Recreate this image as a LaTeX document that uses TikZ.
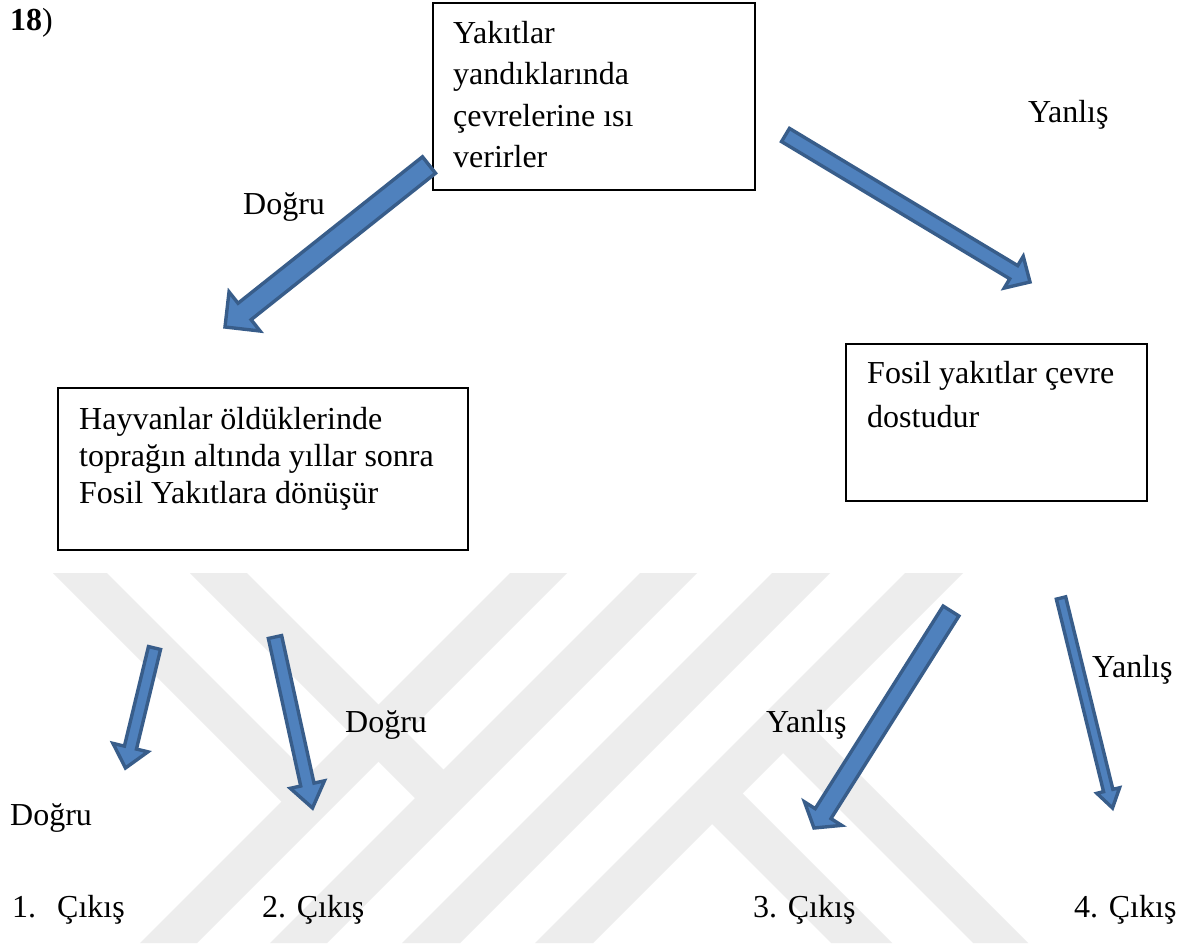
\documentclass[tikz,border=0pt]{standalone}
\usepackage{fontspec}
\setmainfont{Liberation Serif}
\usetikzlibrary{calc}
\definecolor{arrfill}{HTML}{4F81BD}
\definecolor{arrline}{HTML}{385D8A}
\definecolor{wmark}{RGB}{237,237,237}
% #1 tail coordinate, #2 tip coordinate, #3 shaft half width, #4 head half width, #5 head length
\newcommand\blockarr[5]{%
  \coordinate (#1-b) at ($(#2)!#5!(#1)$);
  \draw[blockarrow] ($(#1)!#3!90:(#2)$) -- ($(#1-b)!#3!90:(#2)$) -- ($(#1-b)!#4!90:(#2)$)
     -- (#2) -- ($(#1-b)!#4!-90:(#2)$) -- ($(#1-b)!#3!-90:(#2)$) -- ($(#1)!#3!-90:(#2)$) -- cycle;
}
\begin{document}
\begin{tikzpicture}[x=1pt, y=-1pt,
  font=\fontsize{32}{38}\selectfont,
  box/.style={draw=black, line width=1.6pt, inner sep=0pt},
  txt/.style={anchor=base west, inner sep=0pt},
  blockarrow/.style={fill=arrfill, draw=arrline, line width=3.4pt, line join=miter},
  wm/.style={fill=wmark}]
\useasboundingbox (0,0) rectangle (1185,947);
\fill[white] (0,0) rectangle (1185,947);

% watermark
\begin{scope}
  \clip (0,573) rectangle (1185,943);
  \fill[wm] (510,573) -- (567,573) -- (197,943) -- (140,943) -- cycle;
  \fill[wm] (640,573) -- (697,573) -- (327,943) -- (270,943) -- cycle;
  \fill[wm] (772,573) -- (830,573) -- (460,943) -- (402,943) -- cycle;
  \fill[wm] (905,573) -- (963,573) -- (593,943) -- (535,943) -- cycle;
  \fill[wm] (53,573) -- (107,573) -- (323,789) -- (296,816) -- cycle;
  \fill[wm] (190,573) -- (247,573) -- (458,784) -- (429,812) -- cycle;
  \fill[wm] (795,710) -- (1028,943) -- (973,943) -- (768,738) -- cycle;
  \fill[wm] (730,781) -- (892,943) -- (831,943) -- (690,802) -- cycle;
\end{scope}

% title
\node[txt] (num) at (10,31) {\textbf{18})};

% boxes
\node[box, minimum width=322pt, minimum height=187pt] (topbox) at (594,96.5) {};
\node[box, minimum width=410pt, minimum height=162pt] (leftbox) at (263,469) {};
\node[box, minimum width=301pt, minimum height=157pt] (rightbox) at (996.5,422.5) {};

% box texts
\node[txt] (t1) at (453,44) {Yakıtlar};
\node[txt] (t2) at (453,85) {yandıklarında};
\node[txt] (t3) at (453,126) {çevrelerine ısı};
\node[txt] (t4) at (453,167) {verirler};

\node[txt] (l1) at (79,429) {Hayvanlar öldüklerinde};
\node[txt] (l2) at (79,466) {toprağın altında yıllar sonra};
\node[txt] (l3) at (79,503) {Fosil Yakıtlara dönüşür};

\node[txt] (r1) at (867,383) {Fosil yakıtlar çevre};
\node[txt] (r2) at (867,427) {dostudur};

% arrows
\coordinate (a1s) at (429,165);   \coordinate (a1e) at (225,327);
\coordinate (a2s) at (785.5,135); \coordinate (a2e) at (1030,282);
\coordinate (a3s) at (154.5,648); \coordinate (a3e) at (125.5,768);
\coordinate (a4s) at (275,637);   \coordinate (a4e) at (312.5,808);
\coordinate (a5s) at (951,611);   \coordinate (a5e) at (814,828);
\coordinate (a6s) at (1061,598);  \coordinate (a6e) at (1112.5,808);
\blockarr{a1s}{a1e}{10.5pt}{25pt}{25pt}
\blockarr{a2s}{a2e}{7.7pt}{18.5pt}{19pt}
\blockarr{a3s}{a3e}{6.2pt}{18pt}{21pt}
\blockarr{a4s}{a4e}{6.8pt}{17.5pt}{24pt}
\blockarr{a5s}{a5e}{9.3pt}{22pt}{17pt}
\blockarr{a6s}{a6e}{4.8pt}{11.7pt}{18pt}

% labels
\node[txt] (lbY1) at (1028,122) {Yanlış};
\node[txt] (lbD1) at (243,214) {Doğru};
\node[txt] (lbD2) at (345,732) {Doğru};
\node[txt] (lbD3) at (10,825) {Doğru};
\node[txt] (lbY2) at (766,732) {Yanlış};
\node[txt] (lbY3) at (1092,677) {Yanlış};

% exits
\node[txt] (c1) at (12,917) {1.\hspace{21pt}Çıkış};
\node[txt] (c2) at (262,917) {2. Çıkış};
\node[txt] (c3) at (753,917) {3. Çıkış};
\node[txt] (c4) at (1074,917) {4. Çıkış};
\end{tikzpicture}
\end{document}
